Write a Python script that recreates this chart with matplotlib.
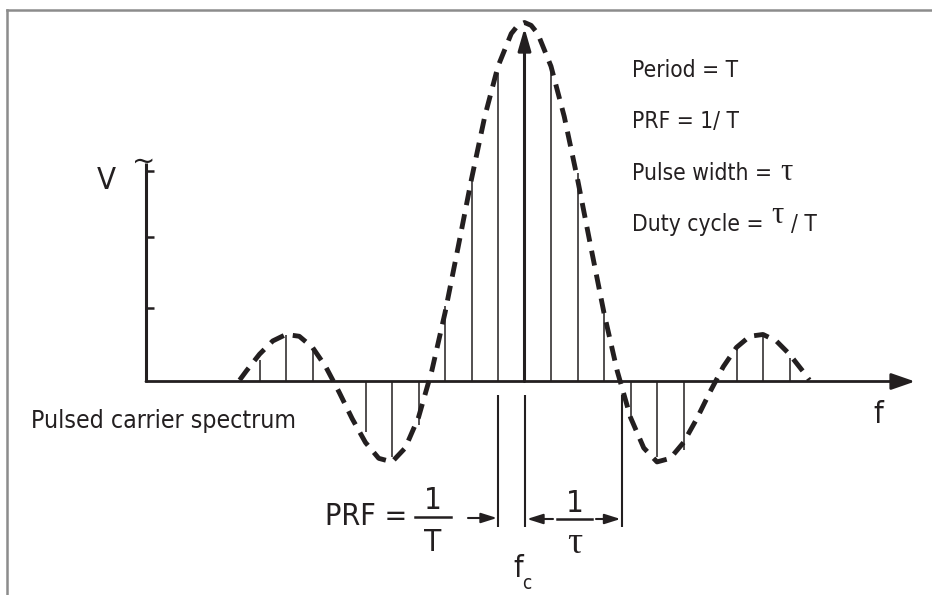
import matplotlib
matplotlib.use("Agg")
import matplotlib.pyplot as plt
from matplotlib.lines import Line2D
from matplotlib import font_manager as fm
from matplotlib.font_manager import FontProperties

# ---------------- data ----------------
# harmonic index of each spectral line (line at k=0 is the carrier f_c)
harmonics = [-10, -9, -8, -6, -5, -4, -3, -2, -1, 1, 2, 3, 4, 5, 6, 8, 9, 10]
# amplitude of each line, relative to the envelope peak
amplitudes = [0.06, 0.13, 0.09, -0.14, -0.21, -0.12, 0.21, 0.57, 0.86,
              0.87, 0.58, 0.21, -0.10, -0.21, -0.19, 0.095, 0.13, 0.065]
carrier_k = 0
carrier_amp = 0.985

# dashed (sin x / x) envelope
env_k = [-10.75, -10.5, -10.0, -9.5, -9.0, -8.5, -8.0, -7.5, -7.0, -6.5,
         -6.0, -5.5, -5.0, -4.5, -4.0, -3.5, -3.0, -2.5, -2.0, -1.5,
         -1.0, -0.5, -0.25, 0.0, 0.25, 0.5, 1.0, 1.5, 2.0, 2.5, 3.0, 3.5,
         4.0, 4.5, 5.0, 5.5, 6.0, 6.5, 7.0, 7.5, 8.0, 8.5, 9.0, 9.5, 10.0,
         10.5, 10.75]
env_amp = [0.004, 0.029, 0.076, 0.113, 0.131, 0.126, 0.095, 0.041, -0.029,
           -0.104, -0.170, -0.214, -0.224, -0.185, -0.100, 0.029, 0.191,
           0.376, 0.564, 0.738, 0.878, 0.969, 0.992, 1.000, 0.992, 0.969,
           0.878, 0.738, 0.564, 0.376, 0.191, 0.029, -0.100, -0.185, -0.224,
           -0.214, -0.170, -0.104, -0.029, 0.041, 0.095, 0.126, 0.131, 0.113,
           0.076, 0.029, 0.004]
first_null_k = 3.68            # 1/tau from the carrier, in line spacings
v_ticks = [0.205, 0.402, 0.586]

right_notes = ["Period = T", "PRF = 1/ T", "Pulse width = ", "Duty cycle = "]

# ---------------- fonts ----------------
_names = {f.name for f in fm.fontManager.ttflist}
_files = [f.fname for f in fm.fontManager.ttflist]
SANS_FILE = None
SANS_FAMILY = None
if "Liberation Sans Narrow" in _names:
    SANS_FAMILY = "Liberation Sans Narrow"
else:
    _cond = [p for p in _files if p.endswith("DejaVuSansCondensed.ttf")]
    if _cond:
        SANS_FILE = _cond[0]
    elif "Roboto" in _names:
        SANS_FAMILY = "Roboto"
    else:
        SANS_FAMILY = "DejaVu Sans"
SERIF_FAMILY = ["Liberation Serif", "DejaVu Serif"]


def sans(size):
    if SANS_FILE:
        return FontProperties(fname=SANS_FILE, size=size)
    return FontProperties(family=SANS_FAMILY, size=size)


def serif(size):
    return FontProperties(family=SERIF_FAMILY, size=size)


# ---------------- layout ----------------
W, H = 932, 595
K0_PX, K_PX, BASE_PX, AMP_PX = 524.5, 26.5, 381.5, 359.0
INK = "#231f20"

fig = plt.figure(figsize=(W / 100, H / 100), dpi=100)
ax = fig.add_axes([0, 0, 1, 1])
ax.set_xlim(-K0_PX / K_PX, (W - K0_PX) / K_PX)
ax.set_ylim((BASE_PX - H) / AMP_PX, BASE_PX / AMP_PX)
ax.axis("off")
renderer = fig.canvas.get_renderer()


def kx(p):
    return (p - K0_PX) / K_PX


def ay(p):
    return (BASE_PX - p) / AMP_PX


def txt(x, y, s, fp, ha="left", va="baseline"):
    t = fig.text(x / W, 1 - y / H, s, fontproperties=fp, ha=ha, va=va,
                 color=INK)
    return t


def right_edge(t):
    return t.get_window_extent(renderer).x1


def arrow(x0, y0, x1, y1, lw, hl, hw, ms):
    ax.annotate("", xy=(kx(x1), ay(y1)), xytext=(kx(x0), ay(y0)),
                arrowprops=dict(arrowstyle=f"-|>,head_length={hl},head_width={hw}",
                                lw=lw, color=INK, shrinkA=0, shrinkB=0,
                                mutation_scale=ms))


# frame (top and left edge)
fig.add_artist(Line2D([7 / W, 1], [1 - 10 / H] * 2, transform=fig.transFigure,
                      color="#8c8c8c", lw=1.8))
fig.add_artist(Line2D([7 / W] * 2, [0, 1 - 10 / H], transform=fig.transFigure,
                      color="#8c8c8c", lw=1.8))

# spectral lines
ax.vlines(harmonics, 0, amplitudes, color=INK, lw=1.1)
ax.annotate("", xy=(carrier_k, carrier_amp), xytext=(carrier_k, 0),
            arrowprops=dict(arrowstyle="-|>,head_length=0.45,head_width=0.13",
                            lw=2.2, color=INK, shrinkA=0, shrinkB=0,
                            mutation_scale=30))

# envelope
ax.plot(env_k, env_amp, color=INK, lw=3.5, ls=(0, (3.1, 1.9)),
        dash_capstyle="butt", solid_joinstyle="round")

# axes
arrow(146, BASE_PX, 915, BASE_PX, 2.0, 0.72, 0.25, 20)
ax.plot([kx(146)] * 2, [0, ay(163)], color=INK, lw=2.2, solid_capstyle="butt")
ax.hlines(v_ticks, kx(146), kx(154), color=INK, lw=1.8)
fig.text(144 / W, 1 - 170 / H, "~", fontsize=20, ha="center", va="baseline",
         family="DejaVu Sans", color=INK)

# labels
txt(106, 189, "V", sans(22.3), ha="center")
txt(878, 423, "f", sans(22.3), ha="center")
txt(31, 428, "Pulsed carrier spectrum", sans(17.8))

# notes at the right
note_fp = sans(16.3)
txt(632, 77, right_notes[0], note_fp)
txt(632, 128, right_notes[1], note_fp)
t3 = txt(632, 180, right_notes[2], note_fp)
txt(right_edge(t3) + 2, 180, "\u03c4", serif(22))
t4 = txt(632, 231, right_notes[3], note_fp)
t5 = txt(right_edge(t4) + 1, 223, "\u03c4", serif(22))
txt(right_edge(t5) + 8, 231, "/ T", note_fp)

# bottom annotation: markers and arrows
ax.vlines([-1, carrier_k, first_null_k], ay(395), ay(527), color=INK, lw=1.5)
txt(407, 525, "PRF =", sans(21.8), ha="right")
txt(433, 509, "1", sans(22.5), ha="center")
ax.plot([kx(415), kx(451)], [ay(517)] * 2, color=INK, lw=1.8)
txt(433, 551, "T", sans(22.5), ha="center")
arrow(468, 518, 497, 518, 1.5, 0.95, 0.3, 10)
arrow(553, 519, 527, 519, 1.5, 0.95, 0.3, 10)
arrow(596, 519, 620.5, 519, 1.5, 0.95, 0.3, 10)
ax.plot([kx(557), kx(592)], [ay(519)] * 2, color=INK, lw=1.8)
txt(575, 511.5, "1", sans(22.5), ha="center")
txt(575, 553, "\u03c4", serif(27), ha="center")
txt(513, 577, "f", sans(22))
txt(522, 589, "c", sans(13.5))

fig.savefig("out.png", dpi=100, facecolor="white")
